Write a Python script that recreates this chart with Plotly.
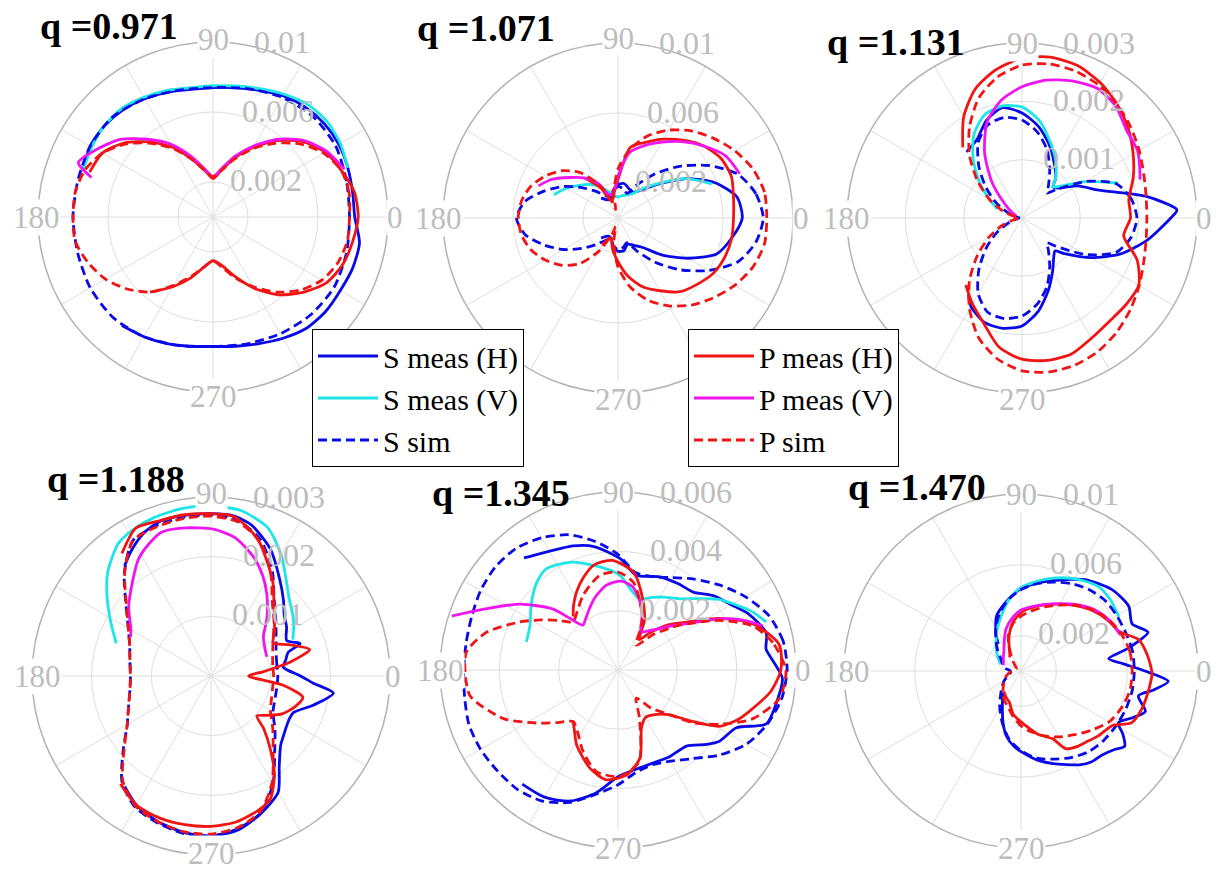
import math
import plotly.graph_objects as go

# ---------------- data (angle in degrees, radius) ----------------
# q = 0.971
q0971_s_h_deg = [-130, -120, -110, -100, -90, -80, -70, -60, -50, -40, -30, -20, -10, 0, 10, 20, 30, 40, 50, 60, 70, 80, 90, 100, 110, 120, 130, 140, 150, 160]
q0971_s_h_r = [0.0081, 0.0079, 0.0077, 0.0075, 0.0074, 0.0075, 0.0077, 0.0080, 0.0083, 0.0084, 0.0084, 0.0085, 0.0085, 0.0081, 0.0081, 0.0082, 0.0083, 0.0083, 0.0082, 0.0080, 0.0077, 0.0075, 0.0074, 0.0074, 0.0076, 0.0078, 0.0080, 0.0081, 0.0081, 0.0079]
q0971_s_v_deg = [20, 30, 40, 50, 60, 70, 80, 90, 100, 110, 120, 130, 140, 150, 160]
q0971_s_v_r = [0.0082, 0.0084, 0.0085, 0.0084, 0.0081, 0.0078, 0.0076, 0.0075, 0.0075, 0.0077, 0.0079, 0.0081, 0.0081, 0.0080, 0.0079]
q0971_s_sim_deg = [0, 15, 30, 45, 60, 75, 90, 105, 120, 135, 150, 165, 180, 195, 210, 225, 240, 255, 270, 285, 300, 315, 330, 345, 360]
q0971_s_sim_r = [0.0078, 0.0079, 0.0081, 0.0081, 0.0079, 0.0076, 0.0074, 0.0075, 0.0078, 0.0081, 0.0081, 0.0080, 0.0080, 0.0080, 0.0081, 0.0081, 0.0079, 0.0076, 0.0074, 0.0075, 0.0077, 0.0079, 0.0080, 0.0079, 0.0078]
q0971_p_h_deg = [-130, -120, -110, -100, -90, -80, -70, -60, -50, -40, -30, -20, -10, 0, 10, 20, 30, 40, 50, 60, 70, 80, 90, 100, 110, 120, 130, 140, 150, 160]
q0971_p_h_r = [0.0056, 0.0046, 0.0037, 0.0029, 0.0025, 0.0028, 0.0036, 0.0047, 0.0058, 0.0067, 0.0075, 0.0079, 0.0081, 0.0083, 0.0082, 0.0078, 0.0074, 0.0067, 0.0057, 0.0046, 0.0036, 0.0027, 0.0022, 0.0027, 0.0035, 0.0046, 0.0056, 0.0066, 0.0073, 0.0075]
q0971_p_v_deg = [20, 30, 40, 50, 60, 70, 80, 90, 100, 110, 120, 130, 140, 150, 158, 162]
q0971_p_v_r = [0.0080, 0.0075, 0.0068, 0.0058, 0.0047, 0.0037, 0.0028, 0.0023, 0.0028, 0.0037, 0.0048, 0.0058, 0.0069, 0.0077, 0.0083, 0.0073]
q0971_p_sim_deg = [0, 10, 20, 30, 40, 50, 60, 70, 80, 90, 100, 110, 120, 130, 140, 150, 160, 170, 180, 190, 200, 210, 220, 230, 240, 250, 260, 270, 280, 290, 300, 310, 320, 330, 340, 350, 360]
q0971_p_sim_r = [0.0078, 0.0079, 0.0078, 0.0073, 0.0065, 0.0055, 0.0045, 0.0035, 0.0027, 0.0023, 0.0027, 0.0035, 0.0045, 0.0055, 0.0065, 0.0073, 0.0078, 0.0080, 0.0080, 0.0080, 0.0076, 0.0071, 0.0064, 0.0056, 0.0045, 0.0036, 0.0029, 0.0025, 0.0029, 0.0037, 0.0046, 0.0056, 0.0065, 0.0072, 0.0076, 0.0078, 0.0078]

# q = 1.071
q1071_s_h_deg = [-130, -120, -110, -100, -90, -80, -70, -60, -50, -40, -30, -20, -10, 0, 10, 20, 30, 40, 50, 60, 70, 80, 90, 100, 110, 120, 130]
q1071_s_h_r = [0.0015, 0.0012, 0.0012, 0.0016, 0.0019, 0.0019, 0.0016, 0.0018, 0.0022, 0.0033, 0.0046, 0.0060, 0.0066, 0.0071, 0.0069, 0.0059, 0.0045, 0.0030, 0.0021, 0.0017, 0.0018, 0.0020, 0.0019, 0.0016, 0.0012, 0.0012, 0.0015]
q1071_s_v_deg = [20, 30, 40, 50, 60, 70, 80, 90, 100, 110, 120, 130, 140, 150, 160]
q1071_s_v_r = [0.0057, 0.0045, 0.0031, 0.0022, 0.0016, 0.0014, 0.0013, 0.0012, 0.0013, 0.0016, 0.0021, 0.0025, 0.0029, 0.0034, 0.0039]
q1071_s_sim_deg = [0, 10, 20, 30, 40, 50, 60, 70, 80, 90, 100, 110, 120, 130, 140, 150, 160, 170, 180, 190, 200, 210, 220, 230, 240, 250, 260, 270, 280, 290, 300, 310, 320, 330, 340, 350, 360]
q1071_s_sim_r = [0.0083, 0.0080, 0.0073, 0.0060, 0.0046, 0.0033, 0.0022, 0.0015, 0.0017, 0.0018, 0.0016, 0.0013, 0.0015, 0.0020, 0.0027, 0.0036, 0.0045, 0.0054, 0.0058, 0.0054, 0.0045, 0.0036, 0.0027, 0.0020, 0.0015, 0.0013, 0.0016, 0.0018, 0.0017, 0.0015, 0.0022, 0.0033, 0.0046, 0.0060, 0.0073, 0.0080, 0.0083]
q1071_p_h_deg = [-120, -110, -100, -90, -80, -70, -60, -50, -40, -30, -20, -10, 0, 10, 20, 30, 40, 50, 60, 70, 80, 90, 100, 110, 120, 130]
q1071_p_h_r = [0.0018, 0.0012, 0.0018, 0.0025, 0.0034, 0.0042, 0.0048, 0.0055, 0.0059, 0.0063, 0.0065, 0.0066, 0.0066, 0.0067, 0.0069, 0.0068, 0.0064, 0.0058, 0.0052, 0.0046, 0.0041, 0.0022, 0.0014, 0.0010, 0.0020, 0.0030]
q1071_p_v_deg = [20, 30, 40, 50, 60, 70, 80, 90, 100, 110, 120, 130, 140, 150, 158]
q1071_p_v_r = [0.0074, 0.0071, 0.0064, 0.0057, 0.0050, 0.0044, 0.0038, 0.0024, 0.0015, 0.0014, 0.0023, 0.0030, 0.0036, 0.0044, 0.0049]
q1071_p_sim_deg = [0, 10, 20, 30, 40, 50, 60, 70, 80, 90, 100, 105, 110, 120, 130, 140, 150, 160, 170, 180, 190, 200, 210, 220, 230, 240, 250, 255, 260, 270, 280, 290, 300, 310, 320, 330, 340, 350, 360]
q1071_p_sim_r = [0.0085, 0.0085, 0.0082, 0.0077, 0.0071, 0.0065, 0.0058, 0.0050, 0.0040, 0.0028, 0.0014, 0.0005, 0.0010, 0.0022, 0.0034, 0.0042, 0.0048, 0.0053, 0.0056, 0.0057, 0.0056, 0.0053, 0.0048, 0.0042, 0.0034, 0.0022, 0.0010, 0.0005, 0.0014, 0.0028, 0.0040, 0.0050, 0.0058, 0.0065, 0.0071, 0.0077, 0.0082, 0.0085, 0.0085]

# q = 1.131
q1131_s_h_deg = [-125, -120, -110, -100, -90, -80, -70, -60, -50, -45, -40, -30, -20, -10, 0, 3, 10, 20, 30, 40, 45, 50, 60, 70, 80, 90, 100, 110, 120, 130]
q1131_s_h_r = [0.00160, 0.00175, 0.00190, 0.00192, 0.00185, 0.00162, 0.00132, 0.00105, 0.00085, 0.00080, 0.00095, 0.00136, 0.00180, 0.00218, 0.00255, 0.00266, 0.00215, 0.00140, 0.00110, 0.00080, 0.00075, 0.00090, 0.00110, 0.00135, 0.00160, 0.00180, 0.00192, 0.00178, 0.00155, 0.00148]
q1131_s_v_deg = [20, 30, 40, 45, 50, 60, 70, 80, 90, 100, 110, 120, 130, 140, 150, 160]
q1131_s_v_r = [0.00175, 0.00125, 0.00085, 0.00075, 0.00090, 0.00115, 0.00140, 0.00170, 0.00190, 0.00195, 0.00188, 0.00165, 0.00130, 0.00095, 0.00065, 0.00045]
q1131_s_sim_deg = [0, 10, 20, 30, 40, 45, 50, 60, 70, 80, 90, 100, 110, 120, 130, 140, 150, 160, 170, 180, 190, 200, 210, 220, 230, 240, 250, 260, 270, 280, 290, 300, 310, 315, 320, 330, 340, 350, 360]
q1131_s_sim_r = [0.00197, 0.00190, 0.00172, 0.00125, 0.00075, 0.00060, 0.00070, 0.00095, 0.00125, 0.00150, 0.00168, 0.00175, 0.00170, 0.00150, 0.00115, 0.00080, 0.00050, 0.00025, 0.00010, 0.00005, 0.00010, 0.00025, 0.00050, 0.00080, 0.00115, 0.00150, 0.00172, 0.00175, 0.00168, 0.00150, 0.00125, 0.00095, 0.00070, 0.00060, 0.00075, 0.00125, 0.00172, 0.00190, 0.00197]
q1131_p_h_deg = [-130, -120, -110, -100, -90, -80, -70, -60, -50, -40, -30, -20, -10, 0, 10, 20, 30, 40, 50, 60, 70, 80, 90, 100, 110, 120, 130]
q1131_p_h_r = [0.00150, 0.00170, 0.00192, 0.00225, 0.00242, 0.00248, 0.00248, 0.00238, 0.00232, 0.00232, 0.00231, 0.00210, 0.00177, 0.00186, 0.00186, 0.00203, 0.00220, 0.00238, 0.00254, 0.00268, 0.00278, 0.00280, 0.00274, 0.00258, 0.00235, 0.00200, 0.00158]
q1131_p_v_deg = [18, 30, 40, 50, 60, 70, 80, 90, 100, 110, 120, 130, 140, 150, 160]
q1131_p_v_r = [0.00213, 0.00229, 0.00234, 0.00250, 0.00257, 0.00250, 0.00240, 0.00225, 0.00205, 0.00175, 0.00128, 0.00080, 0.00040, 0.00020, 0.00010]
q1131_p_sim_deg = [0, 10, 20, 30, 40, 50, 60, 70, 80, 90, 100, 110, 120, 130, 140, 150, 160, 170, 180, 190, 200, 210, 220, 230, 240, 250, 260, 270, 280, 290, 300, 310, 320, 330, 340, 350, 360]
q1131_p_sim_r = [0.00214, 0.00216, 0.00222, 0.00232, 0.00243, 0.00254, 0.00263, 0.00268, 0.00268, 0.00262, 0.00245, 0.00218, 0.00180, 0.00140, 0.00100, 0.00065, 0.00035, 0.00012, 0.00005, 0.00012, 0.00035, 0.00065, 0.00100, 0.00140, 0.00180, 0.00218, 0.00245, 0.00262, 0.00268, 0.00268, 0.00263, 0.00254, 0.00243, 0.00232, 0.00222, 0.00216, 0.00214]

# q = 1.188
q1188_s_h_deg = [-128, -120, -110, -100, -90, -80, -70, -60, -53, -45, -40, -30, -24, -16, -8, -4, 0, 7, 12, 17, 20, 25, 33, 40, 46, 55, 65, 75, 82, 90, 100, 108, 115, 122, 128]
q1188_s_h_r = [0.00235, 0.00250, 0.00260, 0.00266, 0.00268, 0.00262, 0.00245, 0.00225, 0.00190, 0.00165, 0.00158, 0.00150, 0.00151, 0.00178, 0.00207, 0.00172, 0.00150, 0.00122, 0.00128, 0.00135, 0.00159, 0.00140, 0.00151, 0.00160, 0.00175, 0.00200, 0.00235, 0.00262, 0.00271, 0.00272, 0.00273, 0.00273, 0.00265, 0.00250, 0.00235]
q1188_s_v_deg = [24, 30, 36, 45, 53, 60, 69, 80, 91, 100, 110, 118, 125, 135, 143, 152, 161]
q1188_s_v_r = [0.00150, 0.00160, 0.00170, 0.00185, 0.00208, 0.00235, 0.00266, 0.00282, 0.00285, 0.00285, 0.00282, 0.00278, 0.00271, 0.00245, 0.00218, 0.00190, 0.00168]
q1188_s_sim_deg = [0, 10, 20, 30, 40, 50, 60, 70, 80, 90, 100, 110, 120, 130, 140, 150, 160, 170, 180, 190, 200, 210, 220, 230, 240, 250, 260, 270, 280, 290, 300, 310, 320, 330, 340, 350, 360]
q1188_s_sim_r = [0.00112, 0.00112, 0.00116, 0.00126, 0.00142, 0.00165, 0.00205, 0.00243, 0.00264, 0.00270, 0.00270, 0.00268, 0.00262, 0.00226, 0.00186, 0.00160, 0.00145, 0.00138, 0.00135, 0.00138, 0.00147, 0.00162, 0.00192, 0.00232, 0.00254, 0.00262, 0.00268, 0.00268, 0.00260, 0.00244, 0.00208, 0.00166, 0.00140, 0.00120, 0.00114, 0.00112, 0.00112]
q1188_p_h_deg = [-130, -120, -110, -100, -90, -80, -70, -64, -57, -51, -45, -41, -35, -28, -20, -13, -7, 0, 5, 10, 15, 22, 28, 35, 43, 50, 57, 64, 70, 76, 82, 90, 100, 108, 117, 126]
q1188_p_h_r = [0.00236, 0.00250, 0.00253, 0.00253, 0.00252, 0.00248, 0.00238, 0.00228, 0.00195, 0.00158, 0.00125, 0.00102, 0.00115, 0.00135, 0.00150, 0.00158, 0.00120, 0.00063, 0.00090, 0.00135, 0.00171, 0.00140, 0.00118, 0.00130, 0.00145, 0.00164, 0.00190, 0.00214, 0.00238, 0.00256, 0.00270, 0.00272, 0.00274, 0.00274, 0.00278, 0.00254]
q1188_p_v_deg = [19, 28, 37, 46, 56, 63, 70, 80, 89, 100, 109, 115, 122, 130, 140, 150, 154]
q1188_p_v_r = [0.00099, 0.00102, 0.00110, 0.00135, 0.00167, 0.00190, 0.00211, 0.00235, 0.00246, 0.00252, 0.00255, 0.00245, 0.00230, 0.00205, 0.00180, 0.00155, 0.00150]
q1188_p_sim_deg = [0, 10, 20, 30, 40, 50, 60, 70, 80, 90, 100, 110, 120, 130, 140, 150, 160, 170, 180, 190, 200, 210, 220, 230, 240, 250, 260, 270, 280, 290, 300, 310, 320, 330, 340, 350, 360]
q1188_p_sim_r = [0.00105, 0.00105, 0.00110, 0.00120, 0.00138, 0.00160, 0.00200, 0.00240, 0.00262, 0.00268, 0.00268, 0.00266, 0.00262, 0.00225, 0.00185, 0.00160, 0.00145, 0.00138, 0.00135, 0.00138, 0.00147, 0.00162, 0.00190, 0.00230, 0.00252, 0.00260, 0.00265, 0.00265, 0.00258, 0.00242, 0.00205, 0.00162, 0.00135, 0.00115, 0.00108, 0.00105, 0.00105]

# q = 1.345
q1345_s_h_deg = [-130, -120, -110, -100, -90, -80, -70, -60, -48, -40, -35, -26, -20, -12, -3, 4, 8, 14, 23, 30, 38, 46, 55, 66, 79, 89, 101, 110, 116, 123, 130]
q1345_s_h_r = [0.00502, 0.00495, 0.00470, 0.00420, 0.00360, 0.00340, 0.00335, 0.00340, 0.00345, 0.00390, 0.00418, 0.00444, 0.00532, 0.00545, 0.00555, 0.00520, 0.00504, 0.00515, 0.00480, 0.00440, 0.00407, 0.00365, 0.00355, 0.00344, 0.00325, 0.00376, 0.00424, 0.00445, 0.00454, 0.00470, 0.00493]
q1345_s_v_deg = [18, 24, 29, 35, 42, 49, 58, 65, 73, 80, 89, 100, 113, 125, 132, 139, 146, 153, 163]
q1345_s_v_r = [0.00525, 0.00490, 0.00454, 0.00415, 0.00360, 0.00318, 0.00290, 0.00270, 0.00250, 0.00270, 0.00320, 0.00353, 0.00395, 0.00418, 0.00405, 0.00381, 0.00355, 0.00333, 0.00323]
q1345_s_sim_deg = [0, 10, 20, 30, 40, 50, 60, 70, 80, 90, 100, 110, 120, 130, 140, 150, 160, 170, 180, 190, 200, 210, 220, 230, 240, 250, 260, 270, 280, 290, 300, 310, 320, 330, 340, 350, 360]
q1345_s_sim_r = [0.00570, 0.00565, 0.00540, 0.00495, 0.00446, 0.00400, 0.00360, 0.00335, 0.00334, 0.00390, 0.00440, 0.00485, 0.00515, 0.00535, 0.00540, 0.00535, 0.00525, 0.00520, 0.00520, 0.00525, 0.00535, 0.00535, 0.00530, 0.00526, 0.00510, 0.00475, 0.00425, 0.00387, 0.00350, 0.00340, 0.00355, 0.00390, 0.00446, 0.00500, 0.00535, 0.00560, 0.00570]
q1345_p_h_deg = [-131, -125, -119, -106, -96, -85, -76, -68, -60, -52, -41, -35, -29, -22, -16, -8, 0, 9, 19, 27, 35, 43, 50, 55, 62, 71, 81, 93, 103, 110, 118, 125, 130]
q1345_p_h_r = [0.00230, 0.00255, 0.00288, 0.00344, 0.00372, 0.00354, 0.00306, 0.00211, 0.00185, 0.00192, 0.00230, 0.00300, 0.00391, 0.00440, 0.00472, 0.00520, 0.00549, 0.00550, 0.00480, 0.00383, 0.00281, 0.00220, 0.00160, 0.00125, 0.00190, 0.00255, 0.00334, 0.00370, 0.00363, 0.00335, 0.00298, 0.00262, 0.00235]
q1345_p_v_deg = [17, 22, 27, 33, 40, 50, 59, 66, 72, 80, 88, 98, 108, 115, 122, 128, 133, 137, 146, 155, 162]
q1345_p_v_r = [0.00510, 0.00450, 0.00380, 0.00290, 0.00230, 0.00175, 0.00150, 0.00200, 0.00241, 0.00285, 0.00300, 0.00288, 0.00255, 0.00228, 0.00205, 0.00192, 0.00238, 0.00302, 0.00397, 0.00489, 0.00589]
q1345_p_sim_deg = [0, 10, 18, 26, 36, 45, 54, 63, 72, 80, 90, 101, 115, 125, 133, 140, 147, 154, 164, 173, 180, 190, 203, 213, 221, 229, 237, 247, 258, 271, 283, 294, 303, 311, 319, 325, 332, 340, 350, 360]
q1345_p_sim_r = [0.00566, 0.00530, 0.00479, 0.00381, 0.00257, 0.00170, 0.00104, 0.00180, 0.00241, 0.00300, 0.00330, 0.00325, 0.00278, 0.00240, 0.00222, 0.00260, 0.00310, 0.00369, 0.00461, 0.00514, 0.00516, 0.00506, 0.00419, 0.00328, 0.00270, 0.00230, 0.00250, 0.00300, 0.00350, 0.00359, 0.00317, 0.00178, 0.00113, 0.00170, 0.00230, 0.00310, 0.00389, 0.00482, 0.00552, 0.00566]

# q = 1.470
q1470_s_h_deg = [-130, -120, -110, -103, -95, -87, -80, -71, -58, -52, -46, -40, -36, -32, -28, -23, -18, -12, -8, -4, 0, 4, 8, 12, 17, 23, 31, 42, 55, 63, 71, 81, 91, 102, 114, 124, 130]
q1470_s_h_r = [0.00160, 0.00210, 0.00300, 0.00374, 0.00430, 0.00470, 0.00510, 0.00553, 0.00625, 0.00650, 0.00660, 0.00690, 0.00724, 0.00680, 0.00623, 0.00680, 0.00739, 0.00678, 0.00760, 0.00834, 0.00700, 0.00580, 0.00500, 0.00620, 0.00750, 0.00682, 0.00710, 0.00689, 0.00630, 0.00580, 0.00540, 0.00500, 0.00460, 0.00400, 0.00340, 0.00250, 0.00200]
q1470_s_v_deg = [29, 38, 47, 54, 61, 71, 81, 91, 100, 110, 120, 130, 139, 150, 162]
q1470_s_v_r = [0.00632, 0.00645, 0.00648, 0.00625, 0.00598, 0.00555, 0.00510, 0.00467, 0.00405, 0.00329, 0.00270, 0.00220, 0.00185, 0.00150, 0.00120]
q1470_s_sim_deg = [0, 10, 20, 30, 40, 50, 60, 70, 80, 90, 100, 110, 120, 130, 140, 150, 160, 170, 180, 190, 200, 210, 220, 230, 240, 250, 260, 270, 280, 290, 300, 310, 320, 330, 340, 350, 360]
q1470_s_sim_r = [0.00640, 0.00640, 0.00630, 0.00625, 0.00620, 0.00600, 0.00570, 0.00535, 0.00500, 0.00460, 0.00410, 0.00350, 0.00285, 0.00220, 0.00170, 0.00130, 0.00110, 0.00090, 0.00060, 0.00060, 0.00080, 0.00110, 0.00140, 0.00180, 0.00240, 0.00310, 0.00390, 0.00450, 0.00500, 0.00530, 0.00565, 0.00595, 0.00610, 0.00620, 0.00630, 0.00638, 0.00640]
q1470_p_h_deg = [-130, -120, -110, -100, -85, -75, -65, -60, -54, -48, -40, -31, -25, -17, -8, -1, 7, 15, 22, 30, 40, 52, 64, 77, 90, 100, 110, 118, 125, 130]
q1470_p_h_r = [0.00150, 0.00170, 0.00190, 0.00250, 0.00310, 0.00370, 0.00423, 0.00507, 0.00530, 0.00543, 0.00570, 0.00600, 0.00690, 0.00716, 0.00730, 0.00740, 0.00720, 0.00687, 0.00596, 0.00570, 0.00530, 0.00473, 0.00420, 0.00374, 0.00330, 0.00275, 0.00200, 0.00140, 0.00110, 0.00100]
q1470_p_v_deg = [20, 30, 40, 50, 60, 70, 80, 90, 100, 110, 120, 130, 140, 150, 162]
q1470_p_v_r = [0.00597, 0.00575, 0.00540, 0.00490, 0.00440, 0.00400, 0.00370, 0.00345, 0.00300, 0.00250, 0.00190, 0.00150, 0.00130, 0.00115, 0.00105]
q1470_p_sim_deg = [0, 10, 20, 30, 40, 50, 60, 70, 80, 90, 100, 110, 120, 130, 140, 150, 160, 170, 180, 190, 200, 210, 220, 230, 240, 250, 260, 270, 280, 290, 300, 310, 320, 330, 340, 350, 360]
q1470_p_sim_r = [0.00628, 0.00625, 0.00605, 0.00575, 0.00535, 0.00485, 0.00430, 0.00385, 0.00345, 0.00310, 0.00270, 0.00210, 0.00120, 0.00070, 0.00040, 0.00030, 0.00030, 0.00035, 0.00050, 0.00070, 0.00090, 0.00110, 0.00130, 0.00160, 0.00190, 0.00215, 0.00260, 0.00310, 0.00350, 0.00390, 0.00430, 0.00470, 0.00520, 0.00575, 0.00605, 0.00625, 0.00628]

q_labels = ["0.971", "1.071", "1.131", "1.188", "1.345", "1.470"]
r_max = [0.01, 0.01, 0.003, 0.003, 0.006, 0.01]
r_ticks = [[0.002, 0.006, 0.01], [0.002, 0.006, 0.01], [0.001, 0.002, 0.003],
           [0.001, 0.002, 0.003], [0.002, 0.004, 0.006], [0.002, 0.006, 0.01]]
r_tick_text = [["0.002", "0.006", "0.01"], ["0.002", "0.006", "0.01"], ["0.001", "0.002", "0.003"],
               ["0.001", "0.002", "0.003"], ["0.002", "0.004", "0.006"], ["0.002", "0.006", "0.01"]]
angle_ticks = [0, 30, 60, 90, 120, 150, 180, 210, 240, 270, 300, 330]
angle_labels = ["0", "90", "180", "270"]
series_names = ["S meas (H)", "S meas (V)", "S sim", "P meas (H)", "P meas (V)", "P sim"]

panel_data = [
    [(q0971_s_h_deg, q0971_s_h_r), (q0971_s_v_deg, q0971_s_v_r), (q0971_s_sim_deg, q0971_s_sim_r),
     (q0971_p_h_deg, q0971_p_h_r), (q0971_p_v_deg, q0971_p_v_r), (q0971_p_sim_deg, q0971_p_sim_r)],
    [(q1071_s_h_deg, q1071_s_h_r), (q1071_s_v_deg, q1071_s_v_r), (q1071_s_sim_deg, q1071_s_sim_r),
     (q1071_p_h_deg, q1071_p_h_r), (q1071_p_v_deg, q1071_p_v_r), (q1071_p_sim_deg, q1071_p_sim_r)],
    [(q1131_s_h_deg, q1131_s_h_r), (q1131_s_v_deg, q1131_s_v_r), (q1131_s_sim_deg, q1131_s_sim_r),
     (q1131_p_h_deg, q1131_p_h_r), (q1131_p_v_deg, q1131_p_v_r), (q1131_p_sim_deg, q1131_p_sim_r)],
    [(q1188_s_h_deg, q1188_s_h_r), (q1188_s_v_deg, q1188_s_v_r), (q1188_s_sim_deg, q1188_s_sim_r),
     (q1188_p_h_deg, q1188_p_h_r), (q1188_p_v_deg, q1188_p_v_r), (q1188_p_sim_deg, q1188_p_sim_r)],
    [(q1345_s_h_deg, q1345_s_h_r), (q1345_s_v_deg, q1345_s_v_r), (q1345_s_sim_deg, q1345_s_sim_r),
     (q1345_p_h_deg, q1345_p_h_r), (q1345_p_v_deg, q1345_p_v_r), (q1345_p_sim_deg, q1345_p_sim_r)],
    [(q1470_s_h_deg, q1470_s_h_r), (q1470_s_v_deg, q1470_s_v_r), (q1470_s_sim_deg, q1470_s_sim_r),
     (q1470_p_h_deg, q1470_p_h_r), (q1470_p_v_deg, q1470_p_v_r), (q1470_p_sim_deg, q1470_p_sim_r)],
]

# ---------------- styling / layout ----------------
W, H = 1219, 873


def px(sx):
    return sx / W


def py(sy):
    return 1 - sy / H


BLUE, CYAN, RED, MAGENTA = "#0a0ae6", "#1ee6e6", "#f01414", "#f014f0"
DASH = "9px,5px"
series_style = [
    dict(color=BLUE, dash="solid"), dict(color=CYAN, dash="solid"), dict(color=BLUE, dash=DASH),
    dict(color=RED, dash="solid"), dict(color=MAGENTA, dash="solid"), dict(color=RED, dash=DASH),
]
series_legend = ["legend", "legend", "legend", "legend2", "legend2", "legend2"]

centers = [(213, 217), (618, 218), (1022, 218), (211, 676), (618, 670), (1021, 671)]
radii = [175, 175, 175, 179, 178, 177]
title_pos = [(38, 26), (415, 28), (825, 42), (45, 479), (430, 493), (846, 487)]
# offsets (px) of the angle labels relative to the outer circle: 0, 90, 180, 270
label_off = [(7, -2, -2, 5), (8, -4, -5, 7), (7, 0, -1, 7), (3, -4, 5, 0), (7, 0, 0, 0), (6, 0, 2, 0)]
BOTTOM_LIMIT = H - 20

SERIF = "Liberation Serif, Times New Roman, serif"
GRAY_TXT = "#bdbdbd"
LABEL_ANGLE = math.radians(80)

fig = go.Figure()
layout_polars = {}
annotations = []

for i in range(6):
    pid = "polar" if i == 0 else f"polar{i + 1}"
    cx, cy = centers[i]
    R = radii[i]
    for k in range(6):
        deg, r = panel_data[i][k]
        fig.add_trace(go.Scatterpolar(
            theta=deg, r=r, mode="lines", subplot=pid,
            name=series_names[k], legend=series_legend[k],
            showlegend=(i == 0),
            line=dict(color=series_style[k]["color"], width=2.8, dash=series_style[k]["dash"],
                      shape="spline", smoothing=0.7),
            hoverinfo="skip",
        ))
    layout_polars[pid] = dict(
        domain=dict(x=[px(cx - R), px(cx + R)], y=[py(cy + R), py(cy - R)]),
        bgcolor="white",
        angularaxis=dict(
            rotation=0, direction="counterclockwise",
            tickmode="array", tickvals=angle_ticks, showticklabels=False, ticks="",
            showline=True, linecolor="#b3b3b3", linewidth=1.5,
            gridcolor="#dedede", gridwidth=1, layer="below traces",
        ),
        radialaxis=dict(
            range=[0, r_max[i]], tickmode="array", tickvals=r_ticks[i],
            showticklabels=False, showline=False, ticks="",
            gridcolor="#dedede", gridwidth=1, layer="below traces",
        ),
    )
    # radial tick labels, placed beside the 80-degree ray like the original
    for val, txt in zip(r_ticks[i], r_tick_text[i]):
        rp = val / r_max[i] * R
        annotations.append(dict(
            x=px(cx + rp * math.cos(LABEL_ANGLE) + 10), y=py(cy - rp * math.sin(LABEL_ANGLE) - 3),
            xref="paper", yref="paper", text=txt, showarrow=False,
            xanchor="left", yanchor="middle", borderpad=0,
            font=dict(family=SERIF, size=32, color=GRAY_TXT),
        ))
    # angle labels sitting on the outer circle
    o0, o90, o180, o270 = label_off[i]
    spots = [(cx + R + o0, cy), (cx, cy - R + o90), (cx - R + o180, cy), (cx, min(cy + R + o270, BOTTOM_LIMIT))]
    for lab, (lx, ly) in zip(angle_labels, spots):
        annotations.append(dict(
            x=px(lx), y=py(ly), xref="paper", yref="paper", text=lab, showarrow=False,
            xanchor="center", yanchor="middle", bgcolor="white", borderpad=0,
            font=dict(family=SERIF, size=31, color=GRAY_TXT),
        ))
    tx, ty = title_pos[i]
    annotations.append(dict(
        x=px(tx), y=py(ty), xref="paper", yref="paper", text=f"<b>q ={q_labels[i]}</b>",
        showarrow=False, xanchor="left", yanchor="middle",
        font=dict(family=SERIF, size=38, color="black"),
    ))

legend_common = dict(
    font=dict(family=SERIF, size=30, color="black"), bgcolor="white",
    bordercolor="black", borderwidth=1, xanchor="left", yanchor="top",
    traceorder="normal", tracegroupgap=0, itemwidth=60,
)

fig.update_layout(
    width=W, height=H, margin=dict(l=0, r=0, t=0, b=0),
    paper_bgcolor="white", plot_bgcolor="white",
    showlegend=True,
    legend=dict(x=px(312), y=py(329), **legend_common),
    legend2=dict(x=px(688), y=py(329), **legend_common),
    annotations=annotations,
    **layout_polars,
)

# the page body normally has an 8px margin; remove it so the figure fills the window
fig.write_html("out.html", config={"displayModeBar": False},
               post_script="document.body.style.margin='0';")
